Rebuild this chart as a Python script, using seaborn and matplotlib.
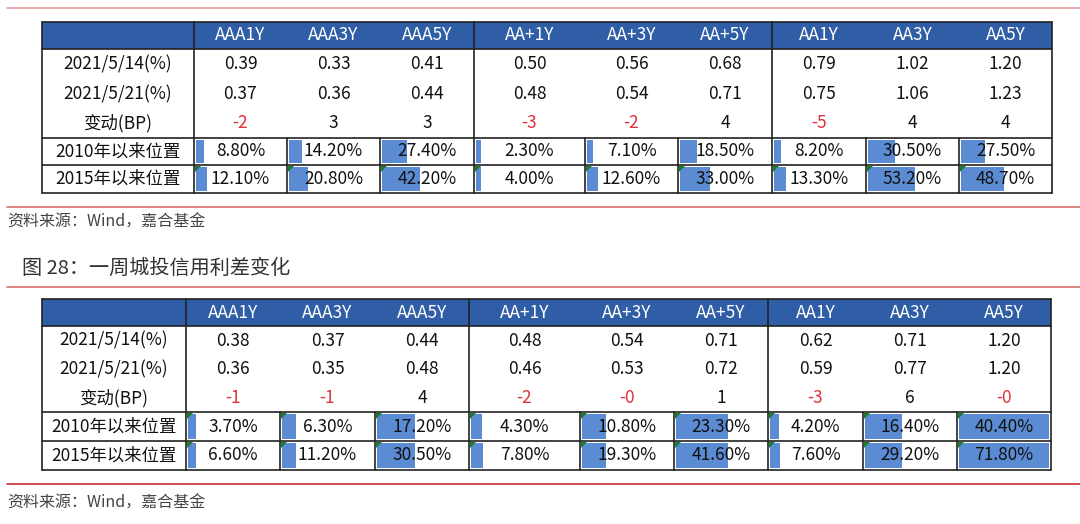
import matplotlib.pyplot as plt
import seaborn as sns
import numpy as np

sns.set_theme(style="white")
plt.rcParams['font.family'] = ['Noto Sans CJK SC', 'DejaVu Sans']

# ---- data ----
columns = ['AAA1Y', 'AAA3Y', 'AAA5Y', 'AA+1Y', 'AA+3Y', 'AA+5Y', 'AA1Y', 'AA3Y', 'AA5Y']
row_labels = ['2021/5/14(%)', '2021/5/21(%)', '变动(BP)', '2010年以来位置', '2015年以来位置']

t1_may14 = [0.39, 0.33, 0.41, 0.50, 0.56, 0.68, 0.79, 1.02, 1.20]
t1_may21 = [0.37, 0.36, 0.44, 0.48, 0.54, 0.71, 0.75, 1.06, 1.23]
t1_change = ['-2', '3', '3', '-3', '-2', '4', '-5', '4', '4']
t1_pos2010 = [8.80, 14.20, 27.40, 2.30, 7.10, 18.50, 8.20, 30.50, 27.50]
t1_pos2015 = [12.10, 20.80, 42.20, 4.00, 12.60, 33.00, 13.30, 53.20, 48.70]

t2_may14 = [0.38, 0.37, 0.44, 0.48, 0.54, 0.71, 0.62, 0.71, 1.20]
t2_may21 = [0.36, 0.35, 0.48, 0.46, 0.53, 0.72, 0.59, 0.77, 1.20]
t2_change = ['-1', '-1', '4', '-2', '-0', '1', '-3', '6', '-0']
t2_pos2010 = [3.70, 6.30, 17.20, 4.30, 10.80, 23.30, 4.20, 16.40, 40.40]
t2_pos2015 = [6.60, 11.20, 30.50, 7.80, 19.30, 41.60, 7.60, 29.20, 71.80]

title2 = '图 28：一周城投信用利差变化'
source = '资料来源：Wind，嘉合基金'

HEAD = '#2F5DA6'
BAR = '#5B8BD2'
RED = '#E0303A'
LINE = '#222222'
FS = 12.5

fig = plt.figure(figsize=(10.8, 5.24), dpi=100)
ax = fig.add_axes([0, 0, 1, 1])
ax.set_xlim(0, 1080)
ax.set_ylim(524, 0)
ax.axis('off')


def draw_table(x_edges, y_edges, may14, may21, change, pos2010, pos2015,
               scale, flag_rows):
    left, right = x_edges[0], x_edges[-1]
    top, bottom = y_edges[0], y_edges[-1]
    # header fill
    ax.fill_between([left, right], y_edges[0], y_edges[1], color=HEAD, lw=0)
    # data bars in the two position rows
    for r, vals in ((4, pos2010), (5, pos2015)):
        vals = np.asarray(vals)
        denom = scale if scale else vals.max()
        y0, y1 = y_edges[r], y_edges[r + 1]
        for c, v in enumerate(vals):
            cl, cr = x_edges[c + 1], x_edges[c + 2]
            w = (cr - cl - 4) * v / denom
            ax.barh((y0 + y1) / 2, max(w, 5), left=cl + 2, height=(y1 - y0) - 4,
                    color=BAR, lw=0, zorder=2)
            if r in flag_rows:
                ax.fill([cl + 1, cl + 7, cl + 1], [y0 + 1, y0 + 1, y0 + 7],
                        color='#1E7B2E', lw=0, zorder=3)
    # text
    rows = [columns, [f'{v:.2f}' for v in may14], [f'{v:.2f}' for v in may21],
            change, [f'{v:.2f}%' for v in pos2010], [f'{v:.2f}%' for v in pos2015]]
    for r, vals in enumerate(rows):
        yc = (y_edges[r] + y_edges[r + 1]) / 2
        if r > 0:
            ax.text((x_edges[0] + x_edges[1]) / 2, yc, row_labels[r - 1],
                    ha='center', va='center', fontsize=FS, color='#111111', zorder=4)
        for c, s in enumerate(vals):
            xc = (x_edges[c + 1] + x_edges[c + 2]) / 2
            if r == 0:
                col = 'white'
            elif r == 3 and s.startswith('-'):
                col = RED
            else:
                col = '#111111'
            ax.text(xc, yc, s, ha='center', va='center', fontsize=FS,
                    color=col, zorder=4)
    # horizontal lines
    for y in (y_edges[0], y_edges[1], y_edges[4], y_edges[5], y_edges[6]):
        ax.plot([left, right], [y, y], color=LINE, lw=1.2, zorder=5)
    # vertical lines
    for i, x in enumerate(x_edges):
        if i in (0, 1, 4, 7, 10):
            ax.plot([x, x], [top, bottom], color=LINE, lw=1.2, zorder=5)
        else:
            ax.plot([x, x], [y_edges[4], bottom], color=LINE, lw=1.2, zorder=5)


x1 = [42, 194, 287, 380, 474, 585, 678, 772, 866, 959, 1052]
y1 = [22, 49, 79, 109, 138, 165, 193]
x2 = [42, 186, 280, 375, 469, 580, 674, 768, 863, 957, 1051]
y2 = [299, 326, 355, 384, 412, 441, 470]

ax.plot([7, 1080], [8, 8], color='#E39A9A', lw=1.2)
draw_table(x1, y1, t1_may14, t1_may21, t1_change, t1_pos2010, t1_pos2015,
           scale=100, flag_rows=(5,))
ax.plot([7, 1080], [207, 207], color='#D77070', lw=1.2)
ax.text(7, 222, source, ha='left', va='center', fontsize=11.5, color='#444444')
ax.text(22, 268, title2, ha='left', va='center', fontsize=14.5, color='#333333',
        fontweight='medium')
ax.plot([7, 1080], [287, 287], color='#D77070', lw=1.2)
draw_table(x2, y2, t2_may14, t2_may21, t2_change, t2_pos2010, t2_pos2015,
           scale=None, flag_rows=(4, 5))
ax.plot([7, 1080], [484, 484], color='#C83030', lw=1.2)
ax.text(7, 503, source, ha='left', va='center', fontsize=11.5, color='#444444')

fig.savefig('out.png', dpi=100)
